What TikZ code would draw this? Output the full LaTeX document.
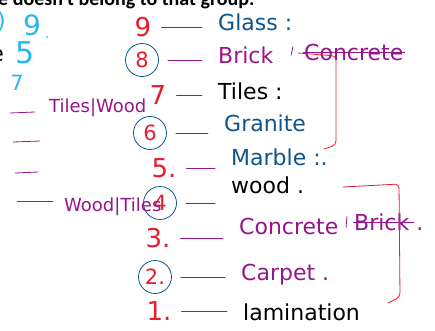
\documentclass[tikz,border=0pt]{standalone}
\usepackage{fontspec}
\setmainfont{DejaVu Sans}
\newfontfamily\headfont{Carlito}
\usetikzlibrary{positioning}
\definecolor{inkred}{RGB}{232,28,46}
\definecolor{inkblue}{RGB}{16,84,140}
\definecolor{inkmag}{RGB}{150,20,140}
\definecolor{inkcyan}{RGB}{40,184,240}

\begin{document}
\begin{tikzpicture}[x=1pt,y=-1pt,
		every node/.style = {
			inner sep=1pt,
			font=\fontsize{22}{24}\selectfont
		},
		num/.style = {text=inkred, font=\fontsize{26}{28}\selectfont},
		ring/.style = {text=inkred, font=\fontsize{21}{24}\selectfont, draw=inkblue, thick, circle, minimum size=33pt, inner sep=0pt},
		word/.style = {anchor=west},
		side/.style = {anchor=west, text=inkmag, font=\fontsize{18}{20}\selectfont},
		tick/.style = {draw=inkmag, thick, line cap=round, shorten <=9pt, shorten >=15pt},
		bracket/.style = {draw=inkred, thick, line cap=round, rounded corners=4pt}
		]
		\useasboundingbox (0,0) rectangle (435,330);
		\clip (0,0) rectangle (435,330);
		% line of the question above, cut off
		\node [anchor=base west, font=\headfont\bfseries\fontsize{20}{22}\selectfont] (head) at (-3,5) {e doesn't belong to that group.};
		\node [anchor=east] (ee) at (5,55) {e};
		\node [anchor=east, text=inkcyan] (cp) at (7,22) {)};
		\node [text=inkcyan, font=\fontsize{28}{30}\selectfont] (c9) at (32,25) {9};
		\node [text=inkcyan, font=\fontsize{30}{32}\selectfont] (c5) at (25,53) {5};
		\node [text=inkcyan, font=\fontsize{21}{23}\selectfont] (c7) at (17,83) {7};
		\fill [inkcyan] (47,37) circle (1pt);
		% numbers
		\node [num] (n9) at (143,27) {9};
		\node [ring] (n8) at (142,60) {8};
		\node [num] (n7) at (158,95) {7};
		\node [ring] (n6) at (150,133) {6};
		\node [num] (n5) at (164,168) {5.};
		\node [ring] (n4) at (160,203) {4};
		\node [num] (n3) at (158,238) {3.};
		\node [ring] (n2) at (155,277) {2.};
		\node [num] (n1) at (159,311) {1.};
		% materials
		\node [word, text=inkblue] (glass) at (217,22) {Glass :};
		\node [word, text=inkmag] (brick) at (217,55) {Brick};
		\node [word, text=inkmag] (conc) at (303,52) {Concrete};
		\node [word] (tiles) at (217,91) {Tiles :};
		\node [word, text=inkblue] (granite) at (223,123) {Granite};
		\node [word, text=inkblue] (marble) at (230,157) {Marble :.};
		\node [word] (wood) at (230,185) {wood .};
		\node [word, text=inkmag] (concrete) at (238,226) {Concrete};
		\node [word, text=inkmag] (brk) at (353,222) {Brick .};
		\node [word, text=inkmag] (carpet) at (240,275) {Carpet .};
		\node [word] (lamin) at (242,312) {lamination};
		\node [side] (tw) at (48,108) {Tiles|Wood};
		\node [side] (wt) at (63,207) {Wood|Tiles};
		\draw[tick] (n9.east) -- (n9.east -| glass.west);
		\draw[tick] (n8.east) -- (n8.east -| brick.west);
		\draw[tick] (n7.east) -- (n7.east -| tiles.west);
		\draw[tick] (n6.east) -- (n6.east -| granite.west);
		\draw[tick] (n5.east) -- (n5.east -| marble.west);
		\draw[tick] (n4.east) -- (n4.east -| wood.west);
		\draw[tick] (n3.east) -- (n3.east -| concrete.west);
		\draw[tick] (n2.east) -- (n2.east -| carpet.west);
		\draw[tick] (n1.east) -- (n1.east -| lamin.west);
		\draw[inkmag, thick] ([xshift=-10pt,yshift=-4pt]conc.north west) -- ([xshift=-12pt,yshift=6pt]conc.south west);
		\draw[inkmag, thick] ([xshift=-6pt,yshift=-4pt]brk.north west) -- ([xshift=-7pt,yshift=4pt]brk.south west);
		\draw[inkmag, thick] (conc.west) -- (conc.east);
		\draw[inkmag, thick] (brk.west) -- ([xshift=-10pt]brk.east);
		\draw[inkmag, thick, line cap=round] (10,113) -- (35,112);
		\draw[inkmag, thick, line cap=round] (13,142) -- (40,141);
		\draw[inkmag, thick, line cap=round] (15,173) -- (38,172);
		\draw[inkmag, thick, line cap=round] (17,201) -- (53,201);
		\draw[bracket] (298,53) -- (336,56) -- (336,145) -- (324,149);
		\draw[bracket] (343,187) -- (399,184) -- (400,297) -- (388,303);
	\end{tikzpicture}
\end{document}
